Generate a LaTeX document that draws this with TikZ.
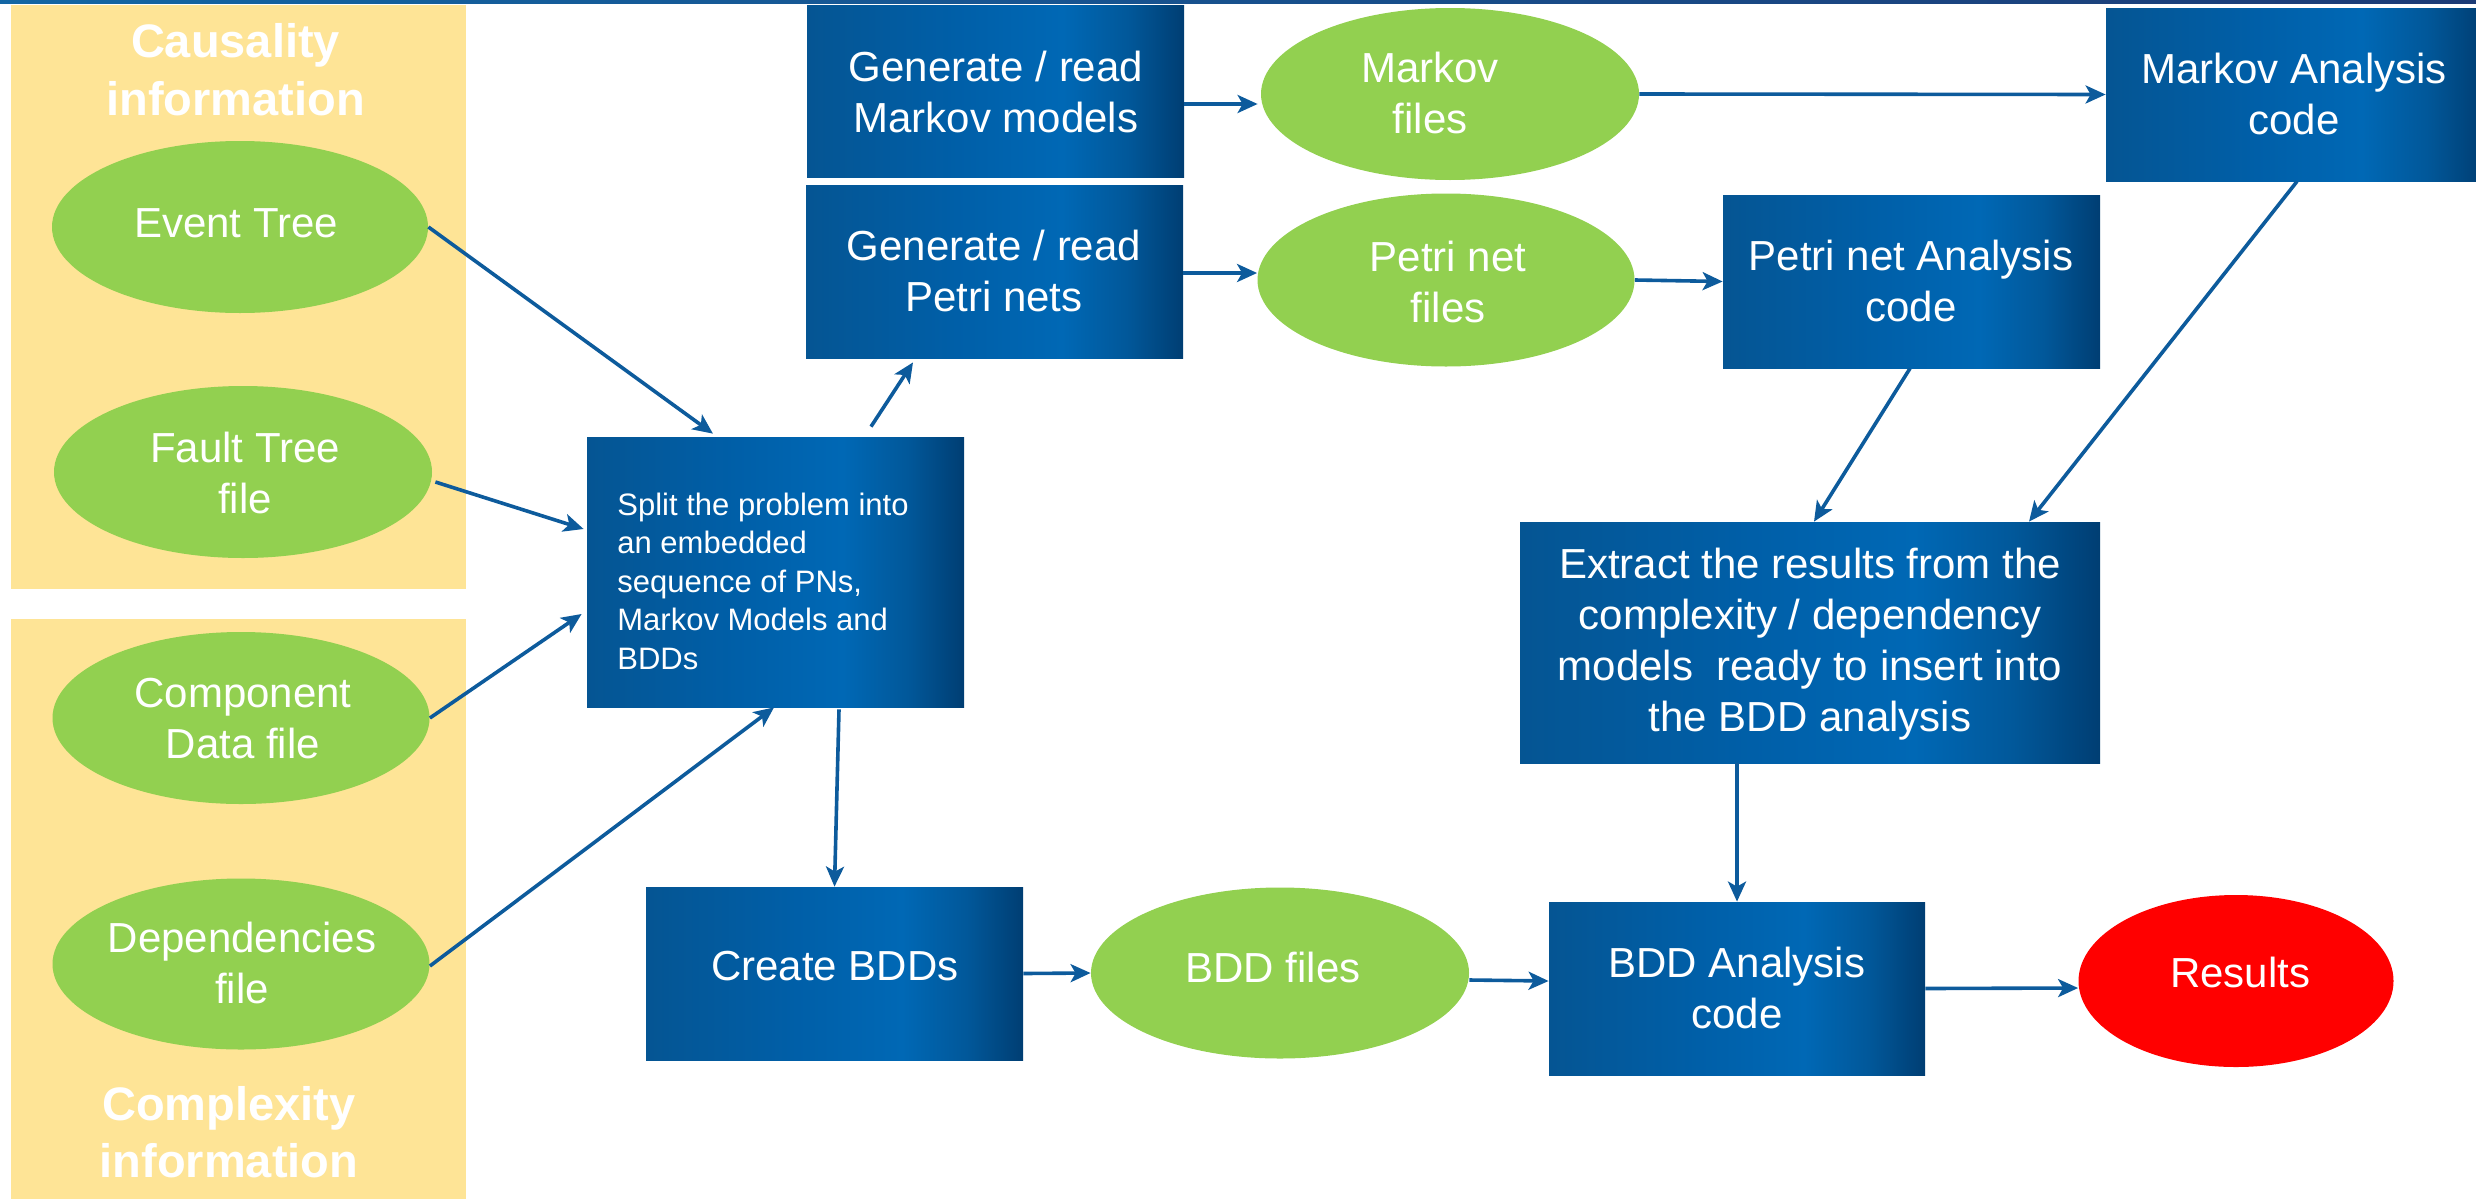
\documentclass[tikz,border=0pt]{standalone}
\usepackage{fontspec}
\setmainfont{Liberation Sans}
\usetikzlibrary{arrows.meta,calc,shapes.geometric}

\definecolor{panelyellow}{HTML}{FEE496}
\definecolor{filegreen}{HTML}{92D050}
\definecolor{resultred}{HTML}{FF0000}
\definecolor{flowblue}{HTML}{0D5B9C}
\definecolor{bxA}{HTML}{055593}
\definecolor{bxB}{HTML}{005FA8}
\definecolor{bxC}{HTML}{0068B5}
\definecolor{bxD}{HTML}{01589A}
\definecolor{bxE}{HTML}{003E73}
\definecolor{barL}{HTML}{1366A4}
\definecolor{barR}{HTML}{1C3B76}

% left-to-right blue gradient of the process boxes
\pgfdeclarehorizontalshading{procshade}{100bp}{%
  color(0bp)=(bxA); color(25bp)=(bxA); color(45bp)=(bxB);
  color(59bp)=(bxC); color(67.5bp)=(bxD); color(75bp)=(bxE); color(100bp)=(bxE)}

% multi-line text whose baseline is that of the first line
\newcommand\linesc[1]{\begin{tabular}[t]{@{}c@{}}#1\end{tabular}}
\newcommand\linesl[1]{\begin{tabular}[t]{@{}l@{}}#1\end{tabular}}

\begin{document}
\begin{tikzpicture}[x=0.5pt,y=-0.5pt,
  panel/.style={rectangle, fill=panelyellow, inner sep=0pt, minimum width=227.5pt},
  ttl/.style={text=white, inner sep=0pt, anchor=base, font=\fontsize{23.5}{29}\selectfont\bfseries},
  procbox/.style={rectangle, shade, shading=procshade, inner sep=0pt, minimum width=188.5pt, minimum height=86.5pt},
  datafile/.style={ellipse, fill=filegreen, inner sep=0pt, minimum width=189pt, minimum height=86pt},
  outcome/.style={ellipse, fill=resultred, inner sep=0pt, minimum width=157.5pt, minimum height=86pt},
  lbl/.style={text=white, inner sep=0pt, anchor=base, font=\fontsize{21}{25.5}\selectfont},
  splitlbl/.style={text=white, inner sep=0pt, anchor=base west, font=\fontsize{15.5}{19.25}\selectfont},
  flow/.style={draw=flowblue, line width=1.8pt, -{Stealth[length=10pt,width=9pt,inset=2.5pt]}},
]
\useasboundingbox (0,0) rectangle (2476,1199);
\clip (0,0) rectangle (2476,1199);

% thin header bar
\shade[left color=barL, right color=barR] (0,0) rectangle (2476,3.5);

% information panels
\node[panel, minimum height=292pt] (causal) at (238.5,297) {};
\node[panel, minimum height=290pt] (complex) at (238.5,909) {};
\node[ttl] (causalT) at (235.5,57) {\linesc{Causality\\information}};
\node[ttl, font=\fontsize{23.5}{28.5}\selectfont\bfseries] (complexT) at (229,1120) {\linesc{Complexity\\information}};

% input files
\node[datafile, minimum width=188pt] (evt) at (240,227) {};
\node[datafile] (flt) at (243,472) {};
\node[datafile, minimum width=188.5pt] (cmp) at (241,718) {};
\node[datafile, minimum width=188.5pt, minimum height=85.5pt] (dep) at (241,964) {};
\node[lbl] (evtT) at (236,237) {Event Tree};
\node[lbl] (fltT) at (245,462) {\linesc{Fault Tree\\file}};
\node[lbl] (cmpT) at (243,707) {\linesc{Component\\Data file}};
\node[lbl] (depT) at (242,952) {\linesc{Dependencies\\file}};

% splitting step
\node[procbox, minimum height=135pt] (split) at (775.5,572) {};
\node[splitlbl] (splitT) at (617,515) {\linesl{Split the problem into\\an embedded\\sequence of PNs,\\Markov Models and\\BDDs}};

% Markov branch
\node[procbox, minimum height=86pt] (genM) at (995.5,91) {};
\node[lbl] (genMT) at (996,81) {\linesc{Generate / read\\Markov models}};
\node[datafile] (mkf) at (1450,94) {};
\node[lbl] (mkfT) at (1430,82) {\linesc{Markov\\files}};
\node[procbox] (mkA) at (2294.5,94.5) {};
\node[lbl] (mkAT) at (2294,83) {\linesc{Markov Analysis\\code}};

% Petri net branch
\node[procbox] (genP) at (994.5,271.5) {};
\node[lbl] (genPT) at (994,260) {\linesc{Generate / read\\Petri nets}};
\node[datafile, minimum width=188.5pt, minimum height=86.5pt] (pnf) at (1446,280) {};
\node[lbl] (pnfT) at (1448,271) {\linesc{Petri net\\files}};
\node[procbox] (pnA) at (1911.5,281.5) {};
\node[lbl] (pnAT) at (1911,270) {\linesc{Petri net Analysis\\code}};

% result extraction
\node[procbox, minimum width=290pt, minimum height=120.5pt] (ext) at (1810,642.5) {};
\node[lbl] (extT) at (1810,578) {\linesc{Extract the results from the\\complexity / dependency\\models\ \ ready to insert into\\the BDD analysis}};

% BDD branch
\node[procbox] (crB) at (834.5,973.5) {};
\node[lbl] (crBT) at (835,980) {Create BDDs};
\node[datafile, minimum height=85.5pt] (bddf) at (1280,973) {};
\node[lbl] (bddfT) at (1273,982) {BDD files};
\node[procbox, minimum width=188pt] (bddA) at (1737,988.5) {};
\node[lbl] (bddAT) at (1737,977) {\linesc{BDD Analysis\\code}};
\node[outcome] (res) at (2236,981) {};
\node[lbl] (resT) at (2240,987) {Results};

% connectors
\draw[flow, shorten >=2.5pt] (evt.east) -- ($(split.north)+(-58.5,0)$);
\draw[flow] ($(flt.east)+(3,10)$) -- ($(split.west)+(-3,-43)$);
\draw[flow] (cmp.east) -- ($(split.west)+(-5,42)$);
\draw[flow] ($(dep.east)+(0,2)$) -- ($(split.south)+(-1.5,0)$);
\draw[flow] ($(split.south)+(63.5,2)$) -- (crB.north);
\draw[flow] ($(split.north)+(95.5,-10)$) -- ($(genP.south)+(-81.5,4)$);
\draw[flow] ($(genM.east)+(0,13)$) -- ($(mkf.west)+(-3,10)$);
\draw[flow] ($(genP.east)+(0,1.5)$) -- ($(pnf.west)+(0,-7)$);
\draw[flow] (pnf.east) -- (pnA.west);
\draw[flow] (mkf.east) -- (mkA.west);
\draw[flow] ($(pnA.south)+(-1.5,0)$) -- ($(ext.north)+(4,0)$);
\draw[flow] ($(mkA.south)+(2.5,0)$) -- ($(ext.north)+(219,0)$);
\draw[flow] ($(ext.south)+(-73,0)$) -- (bddA.north);
\draw[flow] (crB.east) -- (bddf.west);
\draw[flow] ($(bddf.east)+(0,7)$) -- ($(bddA.west)+(0,-7.5)$);
\draw[flow] (bddA.east) -- ($(res.west)+(0,7)$);
\end{tikzpicture}
\end{document}
